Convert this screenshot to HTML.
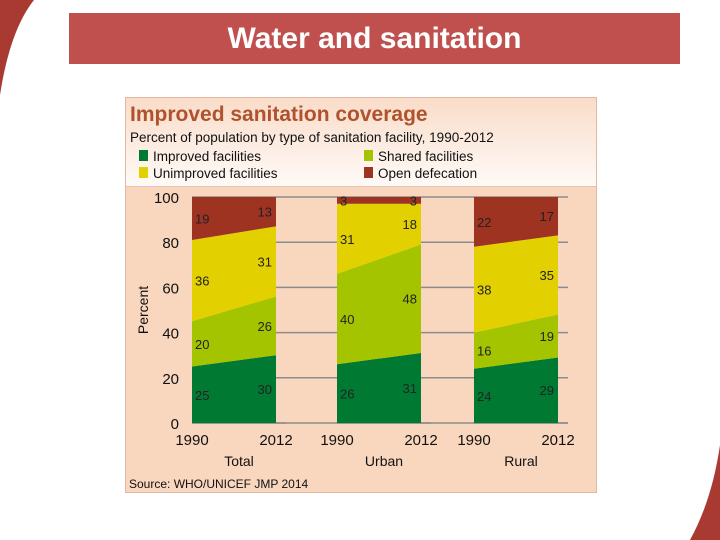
<!DOCTYPE html>
<html><head><meta charset="utf-8"><style>
body{margin:0;width:720px;height:540px;background:#fff;overflow:hidden;position:relative;font-family:"Liberation Sans",sans-serif}
#bar{position:absolute;left:69px;top:13px;width:611px;height:51px;background:#c0504d;color:#fff;font:bold 30px "Liberation Sans",sans-serif;text-align:center;line-height:52px}
#bar span{position:relative;left:0px}
</style></head><body>
<svg width="720" height="540" style="position:absolute;left:0;top:0">
<path d="M0,0 L34,0 Q10,30 0,95 Z" fill="#a83a32"/>
<path d="M720,445 Q712,500 690,540 L720,540 Z" fill="#a83a32"/>
</svg>
<div id="bar"><span>Water and sanitation</span></div>
<svg id="chart" width="720" height="540" style="position:absolute;left:0;top:0">
<defs><linearGradient id="hg" x1="0" y1="0" x2="0" y2="1"><stop offset="0" stop-color="#f9dcc8"/><stop offset="1" stop-color="#fffaf7"/></linearGradient></defs>
<rect x="125.5" y="97.5" width="471" height="395" fill="#f9d6be" stroke="#e0b8a4"/>
<rect x="126" y="98" width="470" height="88" fill="url(#hg)"/>
<line x1="126" y1="186.5" x2="596" y2="186.5" stroke="#e8c4b0"/>
<text x="130" y="121" font-size="21" font-weight="bold" fill="#b0522e">Improved sanitation coverage</text>
<text x="130" y="142" font-size="13.5" fill="#111">Percent of population by type of sanitation facility, 1990-2012</text>
<g id="legend" font-size="13.5" fill="#111"></g>
<g id="grid"></g><g id="areas"></g><g id="labels" font-size="13" fill="#222"></g><g id="axis" font-size="15" fill="#111"></g>
<text transform="translate(148,310) rotate(-90)" font-size="14" text-anchor="middle" fill="#111">Percent</text>
<text x="129" y="488" font-size="12" fill="#111">Source:  WHO/UNICEF JMP 2014</text>
</svg>
<script>
const groups=["Total","Urban","Rural"];
const years=["1990","2012"];
const improved=[[25,30],[26,31],[24,29]];
const shared=[[20,26],[40,48],[16,19]];
const unimproved=[[36,31],[31,18],[38,35]];
const openDef=[[19,13],[3,3],[22,17]];
const seriesNames=["Improved facilities","Shared facilities","Unimproved facilities","Open defecation"];
const colors=["#007a33","#a5c400","#e2d000","#9e3322"];
const yTicks=[0,20,40,60,80,100];
const NS="http://www.w3.org/2000/svg";
const y0=423,y100=197;
const Y=v=>y0-(y0-y100)*v/100;
const gx0=[192,337,474],gw=84;
const X=(g,i)=>gx0[g]+i*gw;
function mk(t,a,p){const e=document.createElementNS(NS,t);for(const k in a)e.setAttribute(k,a[k]);p.appendChild(e);return e;}
const series=[improved,shared,unimproved,openDef];
const lg=document.getElementById('legend');
[[0,135,161],[1,360,161],[2,135,178],[3,360,178]].forEach(([s,x,y])=>{
 const r=mk('rect',{x:x+4,y:y-11,width:9,height:11,fill:colors[s]},lg);
 
 
 const t=mk('text',{x:x+18,y:y},lg);t.textContent=seriesNames[s];
 
 
});
const gr=document.getElementById('grid'),ax=document.getElementById('axis');
yTicks.forEach(v=>{
 const l=mk('line',{x1:192,x2:568,y1:Y(v),y2:Y(v),stroke:'#8c8c8c','stroke-width':1.5},gr);
 
 
 const t=mk('text',{x:179,y:Y(v)+6,'text-anchor':'end'},ax);t.textContent=v;
 
 
});
const ar=document.getElementById('areas'),lb=document.getElementById('labels');
groups.forEach((gname,g)=>{
 let base=[0,0];
 series.forEach((s,si)=>{
  const top=[base[0]+s[g][0],base[1]+s[g][1]];
  const d=`M${X(g,0)},${Y(base[0])}L${X(g,1)},${Y(base[1])}L${X(g,1)},${Y(top[1])}L${X(g,0)},${Y(top[0])}Z`;
  const p=mk('path',{d:d,fill:colors[si]},ar);
  
  
  [0,1].forEach(i=>{
   const mid=(base[i]+top[i])/2;
   const t=mk('text',{x:i==0?X(g,0)+3:X(g,1)-4,y:Y(mid)+5,'text-anchor':i==0?'start':'end'},lb);
   t.textContent=s[g][i];
   
   
  });
  base=top;
 });
 const ln=mk('line',{x1:X(g,0),x2:X(g,1)+10,y1:y0,y2:y0,stroke:'#8c8c8c','stroke-width':1.5},gr);
 
 
 years.forEach((yr,i)=>{
  const t=mk('text',{x:X(g,i),y:445,'text-anchor':'middle'},ax);t.textContent=yr;
  
  
 });
 const c=mk('text',{x:X(g,0)+gw/2+5,y:466,'text-anchor':'middle','font-size':14},ax);c.textContent=gname;
 
 
});
</script>
</body></html>
